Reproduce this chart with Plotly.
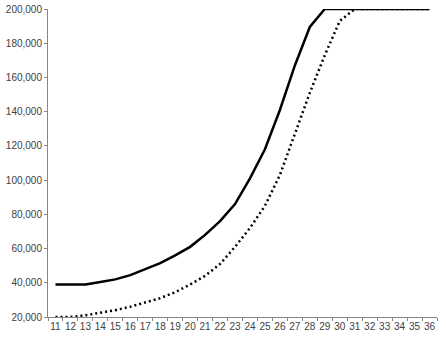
import plotly.graph_objects as go

# categories on the x axis
ages = [str(a) for a in range(11, 37)]

# solid line
upper = [39000, 39000, 39000, 40500, 42000, 44500, 48000, 51500, 56000, 61000,
         68000, 76000, 86000, 101000, 118000, 141000, 167000, 189500, 200000,
         200000, 200000, 200000, 200000, 200000, 200000, 200000]

# dotted line
lower = [20000, 20000, 21000, 22500, 24000, 26000, 28500, 31000, 34500, 39000,
         44000, 51000, 61000, 72000, 85000, 103000, 127000, 151000, 173000,
         193000, 200000, 200000, 200000, 200000, 200000, 200000]

fig = go.Figure()
fig.add_trace(go.Scatter(x=ages, y=upper, mode="lines", cliponaxis=False,
                         line=dict(color="black", width=2.5)))
fig.add_trace(go.Scatter(x=ages, y=lower, mode="lines", cliponaxis=False,
                         line=dict(color="black", width=2.5, dash="2px,3px")))

fig.update_layout(
    width=446, height=341,
    margin=dict(l=48, r=9, t=9, b=24),
    plot_bgcolor="white", paper_bgcolor="white",
    showlegend=False,
    font=dict(family="Liberation Sans, Arial", size=10, color="#404040"),
)
fig.update_xaxes(type="category", range=[-0.5, 25.5], tickson="boundaries",
                 ticks="outside", ticklen=3, tickcolor="#868686",
                 showline=True, linecolor="#868686", linewidth=1,
                 showgrid=False, zeroline=False, tickangle=0, automargin=False)
fig.update_yaxes(range=[20000, 200000], dtick=20000, tickformat=",d",
                 ticks="outside", ticklen=3, tickcolor="#868686",
                 showline=True, linecolor="#868686", linewidth=1,
                 showgrid=False, zeroline=False, automargin=False)

# page body has an 8px margin by default; drop it so the chart fills the window
fig.write_html("out.html", config={"displayModeBar": False},
               post_script="document.body.style.margin='0';")
